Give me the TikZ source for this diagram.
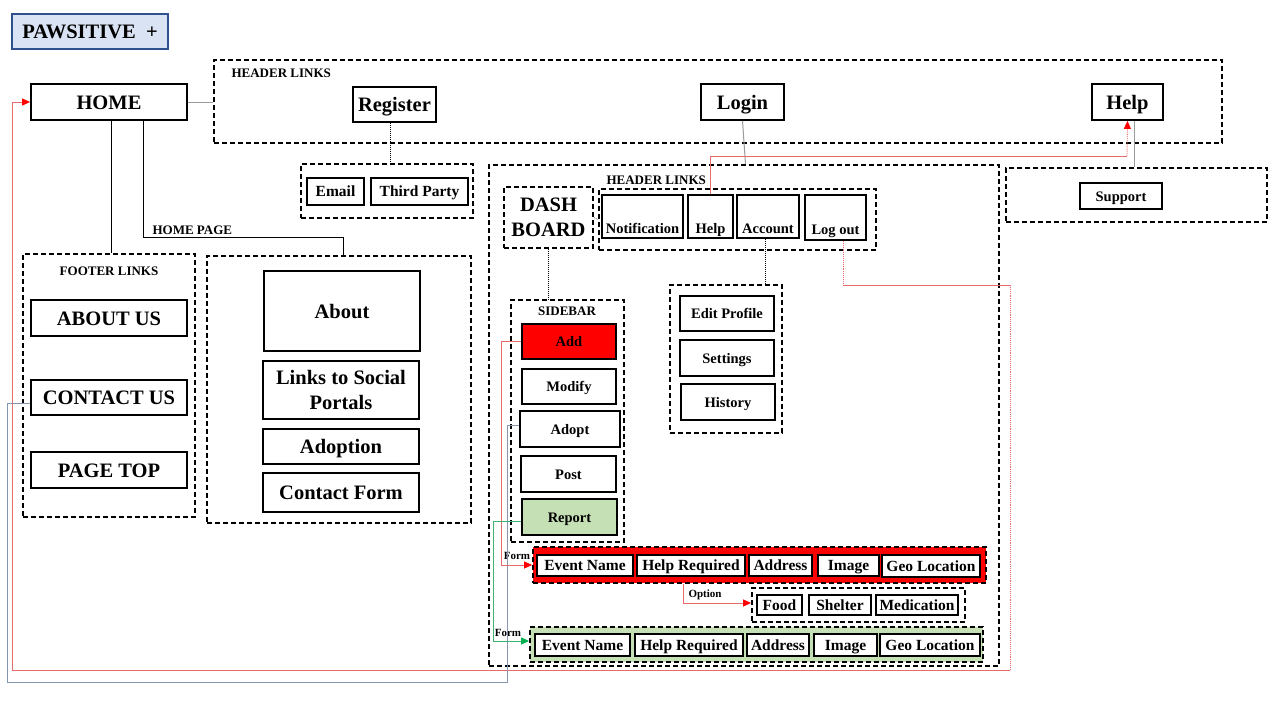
\documentclass[tikz,border=0pt]{standalone}
\usepackage{fontspec}
\setmainfont{Liberation Serif}
\usetikzlibrary{arrows.meta}

\definecolor{pawfill}{HTML}{DAE3F3}
\definecolor{pawline}{HTML}{2F528F}
\definecolor{repgreen}{HTML}{C5E0B4}
\definecolor{linkred}{HTML}{E46C6C}
\definecolor{linkgray}{HTML}{9A9A9A}
\definecolor{linkblue}{HTML}{8496B0}
\definecolor{linkgreen}{HTML}{3CB371}
\definecolor{arrgreen}{HTML}{00B050}

\tikzset{
  box/.style={draw=black, line width=1.8pt, fill=white, inner sep=0pt},
  grp/.style={draw=black, line width=1.8pt, dash pattern=on 5pt off 3pt, inner sep=0pt},
  t20/.style={font=\fontsize{20.5}{25}\selectfont\bfseries, align=center, text height=18.5pt, text depth=4.5pt},
  t15/.style={font=\fontsize{15.5}{18}\selectfont\bfseries, text height=14pt, text depth=3.5pt},
  t14/.style={font=\fontsize{14.5}{17}\selectfont\bfseries, text height=13pt, text depth=3pt},
  t13/.style={font=\fontsize{13}{15}\selectfont\bfseries},
  t11/.style={font=\fontsize{11}{13}\selectfont\bfseries},
  multi/.style={text height=, text depth=},
  lowtext/.style={text height=36pt, text depth=3pt},
  kline/.style={draw=black, line width=1pt},
  gline/.style={draw=linkgray, line width=1pt},
  rline/.style={draw=linkred, line width=0.9pt},
  bline/.style={draw=linkblue, line width=1pt},
  gnline/.style={draw=linkgreen, line width=1pt},
  rarr/.style={-{Triangle[length=8pt,width=7pt,color=red]}},
  garr/.style={-{Triangle[length=8pt,width=7pt,color=arrgreen]}},
}

% \rbox[options]{name}{x1}{y1}{x2}{y2}{text}: a node filling the given corners
\newcommand\rbox[7][]{%
  \pgfmathsetmacro\rbw{#5-#3}\pgfmathsetmacro\rbh{#6-#4}%
  \pgfmathsetmacro\rbx{(#3+#5)/2}\pgfmathsetmacro\rby{(#4+#6)/2}%
  \node[minimum width=\rbw pt, minimum height=\rbh pt, #1] (#2) at (\rbx,\rby) {#7};}

\begin{document}
\begin{tikzpicture}[x=1pt,y=-1pt]
\fill[white] (0,0) rectangle (1280,720);
\useasboundingbox (0,0) rectangle (1280,720);

% title
\rbox[box, draw=pawline, line width=1.5pt, fill=pawfill, t20]{paw}{12}{14}{168}{49}{PAWSITIVE\enspace+}

% home and top header links
\rbox[box, t20]{home}{31}{84}{187}{120}{HOME}
\rbox[grp]{hdr}{214}{60}{1222}{143}{}
\node[t13, anchor=west] (hdrlbl) at (228,73) {HEADER LINKS};
\rbox[box, t20]{register}{353}{87}{436}{122}{Register}
\rbox[box, t20]{login}{701}{84}{784}{120}{Login}
\rbox[box, t20]{help}{1092}{84}{1163}{120}{Help}

% register options
\rbox[grp]{regopt}{301}{164}{473}{218}{}
\rbox[box, t15]{email}{307}{178}{364}{205}{Email}
\rbox[box, t15]{third}{371}{178}{468}{205}{Third Party}

% support
\rbox[grp]{supbox}{1006}{168}{1267}{222}{}
\rbox[box, t14]{support}{1080}{183}{1162}{209}{Support}

% footer links
\rbox[grp]{footer}{23}{254}{195}{517}{}
\node[t13] (footlbl) at (109,271) {FOOTER LINKS};
\rbox[box, t20]{aboutus}{31}{300}{187}{336}{ABOUT US}
\rbox[box, t20]{contact}{31}{380}{187}{415}{CONTACT US}
\rbox[box, t20]{pagetop}{31}{452}{187}{488}{PAGE TOP}

% home page
\node[t13, anchor=west] (hplbl) at (149,230) {HOME PAGE};
\rbox[grp]{hp}{207}{256}{471}{523}{}
\rbox[box, t20]{about}{264}{271}{420}{351}{About}
\rbox[box, t20, multi]{social}{263}{361}{419}{419}{Links to Social\\Portals}
\rbox[box, t20]{adoption}{263}{429}{419}{464}{Adoption}
\rbox[box, t20]{cform}{263}{473}{419}{512}{Contact Form}

% dashboard
\rbox[grp]{dash}{489}{165}{999}{666}{}
\node[t13, anchor=west] (dhdrlbl) at (603,180) {HEADER LINKS};
\rbox[grp, t20, multi]{dashb}{504}{187}{593}{248}{DASH\\BOARD}
\rbox[grp]{hdr2}{599}{189}{876}{250}{}
\rbox[box, t14, lowtext]{notif}{602}{195}{683}{238}{Notification}
\rbox[box, t14, lowtext]{dhelp}{688}{195}{733}{238}{Help}
\rbox[box, t14, lowtext]{account}{737}{195}{799}{238}{Account}
\rbox[box, t14, lowtext]{logout}{805}{195}{866}{240}{Log out}

% sidebar
\rbox[grp]{sidebar}{511}{300}{624}{542}{}
\node[t13] (sidelbl) at (567,311) {SIDEBAR};
\rbox[box, t14, fill=red]{add}{522}{324}{616}{359}{Add}
\rbox[box, t14]{modify}{522}{369}{616}{404}{Modify}
\rbox[box, t14]{adopt}{520}{411}{620}{447}{Adopt}
\rbox[box, t14]{post}{521}{456}{616}{492}{Post}
\rbox[box, t14, fill=repgreen]{report}{522}{499}{617}{535}{Report}

% account menu
\rbox[grp]{acct}{670}{285}{782}{433}{}
\rbox[box, t14]{edit}{680}{296}{774}{331}{Edit Profile}
\rbox[box, t14]{settings}{680}{340}{774}{376}{Settings}
\rbox[box, t14]{history}{681}{384}{775}{420}{History}

% add form
\rbox[grp, fill=red]{redform}{533}{547}{986}{583}{}
\rbox[box, t15]{ra1}{537}{555}{633}{576}{Event Name}
\rbox[box, t15]{ra2}{637}{555}{745}{576}{Help Required}
\rbox[box, t15]{ra3}{749}{555}{812}{576}{Address}
\rbox[box, t15]{ra4}{818}{555}{879}{576}{Image}
\rbox[box, t15]{ra5}{882}{555}{980}{577}{Geo Location}

% help options
\rbox[grp]{opt}{752}{588}{965}{622}{}
\rbox[box, t15]{food}{757}{595}{802}{615}{Food}
\rbox[box, t15]{shelter}{809}{595}{871}{615}{Shelter}
\rbox[box, t15]{medic}{876}{595}{958}{615}{Medication}

% report form
\rbox[grp, fill=repgreen]{greenform}{530}{627}{983}{662}{}
\rbox[box, t15]{ga1}{535}{634}{630}{656}{Event Name}
\rbox[box, t15]{ga2}{635}{634}{743}{656}{Help Required}
\rbox[box, t15]{ga3}{747}{634}{809}{656}{Address}
\rbox[box, t15]{ga4}{814}{634}{877}{656}{Image}
\rbox[box, t15]{ga5}{880}{634}{980}{656}{Geo Location}

% connector labels
\node[t11] (formA) at (517,556) {Form};
\node[t11] (formB) at (508,633) {Form};
\node[t11] (optlbl) at (705,595) {Option};

% turning points
\coordinate (hpturn) at (343,237);
\coordinate (hk) at (1127,156);
\coordinate (lo1) at (843,285);
\coordinate (lo2) at (1010,285);
\coordinate (lo3) at (1010,670);
\coordinate (lo4) at (12,670);
\coordinate (cg1) at (7,682);
\coordinate (cg2) at (507,682);
\coordinate (ak) at (501,565);
\coordinate (gk) at (493,641);
\coordinate (ok) at (683,603);

% site structure links
\draw[gline] (home.east) -- (home.east -| hdr.west);
\draw[kline] ([xshift=2pt]footer.north |- home.south) -- ([xshift=2pt]footer.north);
\draw[kline] ([xshift=-44pt]home.south east) |- (hpturn) -- (hpturn |- hp.north);
\draw[kline, densely dotted] ([xshift=-4pt]register.south) -- ([xshift=-4pt]register.south |- regopt.north);
\draw[gline] (login.south) -- ([xshift=3pt]login.south |- dash.north);
\draw[gline] ([xshift=7pt]help.south) -- ([xshift=7pt]help.south |- supbox.north);
\draw[kline, densely dotted, line width=0.6pt] (dashb.south) -- (dashb.south |- sidebar.north);
\draw[gline, densely dotted] (dashb.east) -- (hdr2.west);
\draw[kline, densely dotted, line width=0.6pt] ([xshift=-3pt]account.south) -- ([xshift=-3pt]account.south |- acct.north);

% dashboard help to help page
\draw[rline] (dhelp.north) |- (hk);
\draw[rline, densely dotted, rarr] (hk) -- (help.south);

% log out back to home
\draw[rline, densely dotted] (logout.south -| lo1) -- (lo1);
\draw[rline] (lo1) -- (lo2);
\draw[rline, densely dotted] (lo2) -- (lo3);
\draw[rline, rarr] (lo3) -- (lo4) |- (home.west);

% contact us to adopt
\draw[bline] ([yshift=-6pt]contact.west) -| (cg1) -- (cg2) |- ([yshift=4pt]adopt.west);

% sidebar actions to forms
\draw[rline] (add.west) -| (ak);
\draw[rline, rarr] (ak) -- (redform.west);
\draw[gnline] ([yshift=-4pt]report.west) -| (gk);
\draw[gnline, garr] (gk) -- (gk -| greenform.west);
\draw[rline] (ok |- redform.south) -- (ok);
\draw[rline, rarr] (ok) -- (ok -| opt.west);
\end{tikzpicture}
\end{document}
